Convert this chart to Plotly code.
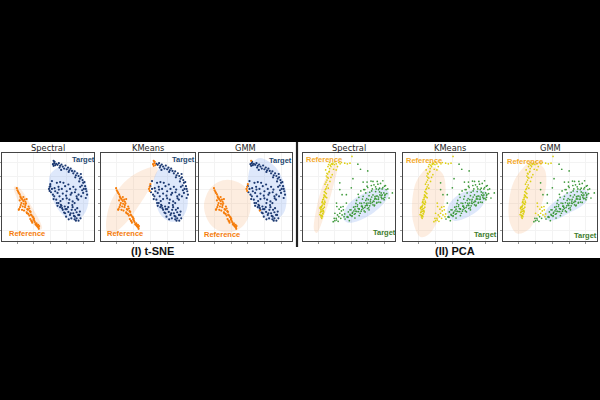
import plotly.graph_objects as go
from plotly.subplots import make_subplots

TITLES = ["Spectral", "KMeans", "GMM", "Spectral", "KMeans", "GMM"]
PANEL_X = [(2, 94), (101, 195), (199, 292), (303, 395), (403, 497), (503, 597)]
PANEL_Y = (153, 241)

TSNE_TARGET_X = [168,172,176,180,184,178,188,192,196,200,204,208,212,206,216,220,224,228,232,226,236,240,244,238,248,250,254,246,256,258,260,252,262,250,258,244,
    150,155,152,158,165,170,162,175,180,172,185,190,178,195,200,188,205,210,198,215,220,208,225,230,218,235,170,182,194,206,160,168,176,188,200,212,224,236,172,186,
    175,180,188,195,200,205,210,215,220,225,230,235,240,242,236,228,222,214,206,198,192,184,218,226,232,212,238,224,204,196,230,
    183,163,227,241,181,247,231,217,155,243]
TSNE_TARGET_Y = [44,47,42,50,46,55,52,58,49,60,55,63,58,68,65,72,66,78,72,84,80,88,84,96,92,100,98,108,110,118,125,118,135,130,145,140,
    110,95,128,135,125,100,140,112,98,130,118,100,140,110,125,148,105,118,138,130,112,150,128,140,155,150,160,165,170,160,148,150,120,132,146,135,160,135,168,175,
    160,172,180,190,178,186,195,180,190,200,205,195,185,205,212,212,198,205,208,200,188,168,172,180,175,190,195,208,172,178,187,
    62,116,120,112,154,122,146,166,118,74]
TSNE_TOP_X = [160,162,165,160,163,158]
TSNE_TOP_Y = [35,42,48,50,38,45]
TSNE_EDGE_X = [148,146,148,150,186]
TSNE_EDGE_Y = [112,118,124,104,182]
TSNE_REF_X = [48,50,52,54,57,59,60,63,57,65,68,62,72,74,69,76,78,58,55,66,73,80,82,86,88,83,90,91,93,96,89,98,99,101,95,103,105,106,109,110,112,114,115,113,116,78,70,64,60,74,86,92,100,108,84,68,79,54,94]
TSNE_REF_Y = [116,122,126,130,134,140,144,147,152,150,154,160,150,156,162,161,148,172,178,170,172,178,180,176,184,192,186,194,196,200,207,202,208,212,218,216,222,224,226,228,230,232,236,224,228,187,182,180,166,166,197,212,206,220,170,142,190,180,214]

PCA_REF_X = [60,62,58,64,56,60,63,66,61,57,65,68,59,62,55,67,64,70,58,63,66,72,61,69,74,68,71,75,78,73,76,80,74,78,82,72,84,79,76,86,81,88,90,84,92,94,98,100,104,108,112,116,120,88,96,104,80,70,92,85,130,138,146,152,
    54,59,65,61,56,68,62,57,71,66,60,64,58,73,67,77,70,83,75,69]
PCA_REF_Y = [205,200,196,192,188,184,190,186,178,180,176,172,170,166,175,162,160,158,196,150,148,142,158,138,132,126,120,112,106,98,92,86,80,74,68,62,58,52,72,48,46,52,44,40,46,42,46,38,44,52,40,44,40,84,60,62,116,140,76,96,42,44,42,22,
    194,173,182,197,172,164,155,186,129,143,169,183,201,117,136,84,104,66,144,154]
PCA_LEFT_X = [95,100,105,98,110,104,112,118,108,115,122,120,126,128,100,113,106,118,125,130,105]
PCA_LEFT_Y = [215,212,210,205,214,205,200,205,195,190,195,183,180,200,190,178,170,172,170,192,160]
PCA_TARGET_X = [131,137,140,147,152,153,162,164,172,174,182,184,191,197,199,207,209,217,219,226,232,233,241,244,252,
    139,146,159,167,180,186,199,206,220,227,239,247,
    141,154,161,174,181,193,201,214,221,233,241,253,
    149,162,168,181,189,202,209,222,229,241,249,261,
    157,164,176,184,197,204,216,224,236,244,256,
    166,173,186,194,206,214,226,233,246,254,
    171,179,191,198,211,219,231,239,251,
    144,161,174,192,204,221,234,252,
    186,198,216,229,246,
    115,122,135,150,155,170,178,200,210,135,115,265,258,275,
    158,171,183,196,208,223,237,177,189,203,216,228,243,169,194,212,226,152,146,212,236,250,200,188,224]
PCA_TARGET_Y = [207,201,202,196,197,190,191,184,185,178,179,172,173,166,167,160,161,154,155,148,149,142,143,136,137,
    200,193,193,185,184,176,176,168,168,160,158,146,
    186,187,178,177,169,168,160,158,148,148,138,134,
    180,170,170,161,159,150,149,141,139,130,130,118,
    172,161,160,148,147,138,136,126,127,118,120,
    152,143,140,130,128,118,118,120,114,108,
    134,124,120,110,108,106,104,102,110,
    212,204,197,186,180,166,157,143,
    98,98,96,96,94,
    100,135,135,115,88,45,60,65,95,160,120,145,132,130,
    183,176,169,161,154,146,136,190,183,174,165,158,147,165,152,142,139,199,180,124,116,150,114,120,112]

REF_OUTLINES = [
    ([40,55,90,125,122,110,70,42], [112,115,165,232,238,235,180,130]),
    ([171,156,121,71,26,18,31,71,121], [55,100,160,225,255,230,160,100,65]),
    ([88,141,159,136,88,41,18,41], [91,112,169,227,247,227,169,112]),
    ([108,95,70,45,37,45,70,95], [45,110,190,248,240,170,90,48]),
    ([85,120,130,115,80,55,35,30,45], [52,72,122,192,252,260,222,162,92]),
    ([90,125,132,115,80,45,25,20,40], [37,57,102,172,237,250,222,162,87]),
]
TGT_OUTLINES = [
    ([185,225,255,267,258,230,195,165,148,150], [52,62,95,140,185,211,200,165,115,75]),
    ([191,231,261,251,216,181,163,163], [50,80,140,195,215,195,140,80]),
    ([186,236,266,256,216,176,151,161], [27,57,132,192,210,172,102,47]),
    ([245,265,245,190,140,125,140,190], [115,130,165,205,218,205,165,130]),
    ([210,250,240,195,155,135,145,175], [122,127,167,202,212,192,157,132]),
    ([215,257,250,195,145,125,135,175], [122,127,157,192,212,202,177,142]),
]
LABEL_POS = [((250,32),(78,250)), ((248,32),(73,250)), ((247,34),(71,252)),
             ((250,248),(68,30)), ((248,252),(67,34)), ((248,255),(68,37))]

ORANGE, NAVY, YELLOW, GREEN = "#f57c0a", "#1d3a72", "#dccf12", "#3f9a3c"
REF_FILL, TGT_FILL = "rgba(245,150,70,0.17)", "rgba(90,140,235,0.2)"
W, H = 600, 400

fig = make_subplots(rows=1, cols=6)
fig.add_shape(type="rect", xref="paper", yref="paper", x0=0, x1=1, y0=1-258/H, y1=1-142/H,
              fillcolor="white", line_width=0, layer="below")
fig.add_shape(type="line", xref="paper", yref="paper", x0=297/W, x1=297/W, y0=1-247/H, y1=1-142/H,
              line=dict(color="#222222", width=2.2))

def outline(c, xy, color):
    fig.add_trace(go.Scatter(x=xy[0]+xy[0][:1], y=xy[1]+xy[1][:1], mode="lines", fill="toself", fillcolor=color,
                             line=dict(width=0, shape="spline", smoothing=1.0), hoverinfo="skip"), row=1, col=c)

def pts(c, x, y, color, size):
    fig.add_trace(go.Scatter(x=x, y=y, mode="markers", marker=dict(color=color, size=size, line_width=0)), row=1, col=c)

for i in range(6):
    c = i + 1
    outline(c, REF_OUTLINES[i], REF_FILL)
    outline(c, TGT_OUTLINES[i], TGT_FILL)
    if i < 3:
        pts(c, TSNE_TARGET_X, TSNE_TARGET_Y, NAVY, 2.2)
        pts(c, TSNE_REF_X, TSNE_REF_Y, ORANGE, 2.2)
        if i == 0:
            pts(c, TSNE_TOP_X + TSNE_EDGE_X[:4], TSNE_TOP_Y + TSNE_EDGE_Y[:4], NAVY, 2.2)
        elif i == 1:
            pts(c, TSNE_TOP_X + TSNE_EDGE_X[:4], TSNE_TOP_Y + TSNE_EDGE_Y[:4], ORANGE, 2.2)
        else:
            pts(c, TSNE_TOP_X[1:], TSNE_TOP_Y[1:], NAVY, 2.2)
            pts(c, TSNE_TOP_X[:1] + TSNE_EDGE_X, TSNE_TOP_Y[:1] + TSNE_EDGE_Y, ORANGE, 2.2)
    else:
        pts(c, PCA_TARGET_X, PCA_TARGET_Y, GREEN, 1.7)
        pts(c, PCA_REF_X, PCA_REF_Y, YELLOW, 1.7)
        split = {3: 21, 4: 0, 5: 8}[i]
        pts(c, PCA_LEFT_X[:split], PCA_LEFT_Y[:split], GREEN, 1.7)
        pts(c, PCA_LEFT_X[split:], PCA_LEFT_Y[split:], YELLOW, 1.7)

    suffix = "" if i == 0 else str(c)
    x0, x1 = PANEL_X[i]
    common = dict(showgrid=True, gridcolor="#f3f3f3", gridwidth=0.6, zeroline=False, showticklabels=False,
                  ticks="outside", ticklen=1.5, tickcolor="#999999", tickwidth=0.5,
                  showline=True, linecolor="#444444", linewidth=1.3, mirror=True)
    fig.layout["xaxis" + suffix].update(domain=[x0/W, x1/W], range=[3, 283], dtick=50, **common)
    fig.layout["yaxis" + suffix].update(domain=[1-PANEL_Y[1]/H, 1-PANEL_Y[0]/H], range=[272, 12], dtick=40, **common)

    fig.add_annotation(x=(x0+x1)/2/W, y=1-147.5/H, xref="paper", yref="paper", xanchor="center", text=TITLES[i], showarrow=False,
                       font=dict(family="DejaVu Sans", size=8.3, color="#222222"))
    (tx, ty), (rx, ry) = LABEL_POS[i]
    fig.add_annotation(x=tx, y=ty, xref="x"+suffix, yref="y"+suffix, text="<b>Target</b>", showarrow=False,
                       font=dict(family="Liberation Sans", size=7.5, color="#24466f" if i < 3 else "#3f7d2e"))
    fig.add_annotation(x=rx, y=ry, xref="x"+suffix, yref="y"+suffix, text="<b>Reference</b>", showarrow=False,
                       font=dict(family="Liberation Sans", size=7.5, color=ORANGE if i < 3 else "#f5aa2a"))

fig.add_annotation(x=152/W, y=1-251/H, xref="paper", yref="paper", xanchor="center", text="<b>(I) t-SNE</b>", showarrow=False,
                   font=dict(family="Liberation Sans", size=11, color="#111111"))
fig.add_annotation(x=455/W, y=1-250.5/H, xref="paper", yref="paper", xanchor="center", text="<b>(II) PCA</b>", showarrow=False,
                   font=dict(family="Liberation Sans", size=11, color="#111111"))

fig.update_layout(width=W, height=H, margin=dict(l=0, r=0, t=0, b=0), paper_bgcolor="black",
                  plot_bgcolor="white", showlegend=False)
fig.write_html("out.html", config={"displayModeBar": False},
               post_script="document.body.style.margin='0';document.body.style.background='black';document.documentElement.style.overflow='hidden';")
